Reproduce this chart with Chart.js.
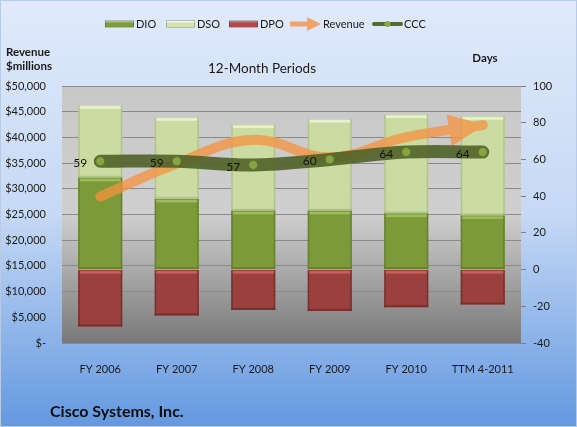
<!DOCTYPE html>
<html><head><meta charset="utf-8">
<script src="https://cdn.jsdelivr.net/npm/chart.js@4.4.0/dist/chart.umd.min.js"></script>
<style>html,body{margin:0;padding:0;background:#dfe9fa;overflow:hidden}</style>
</head><body>
<canvas id="c" width="577" height="427"></canvas>
<script>
const categories = ['FY 2006', 'FY 2007', 'FY 2008', 'FY 2009', 'FY 2010', 'TTM 4-2011'];
const dio = [50, 38.5, 32, 32, 30.5, 29.5];
const dso = [39.5, 44.5, 47, 50, 54, 54];
const dpo = [31, 25, 22, 22.5, 20.5, 19];
const revenue = [28484, 34922, 39540, 36117, 40040, 42400];
const ccc = [59, 59, 57, 60, 64, 64];
const revenueAxis = [0, 50000, 5000];
const daysAxis = [-40, 100, 20];

const FONT = 'Lato, "Liberation Sans", sans-serif';
const bevel = [
  {hl: '#a0bc5a', dark: '#5c7727'},
  {hl: '#e8f2cf', dark: '#a6b686'},
  {hl: '#c9625f', dark: '#6a2927'}
];

const bgPlugin = {
  id: 'bg',
  beforeDraw(chart) {
    const ctx = chart.ctx, w = chart.width, h = chart.height;
    ctx.save();
    let g = ctx.createLinearGradient(0, 0, 0, h);
    g.addColorStop(0, '#e0eafa');
    g.addColorStop(0.5, '#c6d9f5');
    g.addColorStop(1, '#6398e0');
    ctx.fillStyle = g;
    ctx.fillRect(0, 0, w, h);
    ctx.strokeStyle = '#b7cbe6';
    ctx.strokeRect(0.5, 0.5, w - 1, h - 1);
    const a = chart.chartArea;
    g = ctx.createLinearGradient(0, a.top, 0, a.bottom);
    g.addColorStop(0, '#c8c8c8');
    g.addColorStop(0.5, '#cfcfcf');
    g.addColorStop(1, '#797979');
    ctx.fillStyle = g;
    ctx.fillRect(a.left, a.top, a.right - a.left, a.bottom - a.top);
    ctx.restore();
  }
};

const bevelPlugin = {
  id: 'bevel',
  afterDatasetDraw(chart, args) {
    if (args.index > 2) return;
    const ctx = chart.ctx, c = bevel[args.index];
    ctx.save();
    args.meta.data.forEach(bar => {
      const p = bar.getProps(['x', 'y', 'base', 'width'], true);
      const l = p.x - p.width / 2, r = p.x + p.width / 2;
      const t = Math.min(p.y, p.base), b = Math.max(p.y, p.base);
      ctx.fillStyle = c.hl;
      ctx.fillRect(l + 1, t + 1, r - l - 2, 2.5);
      ctx.globalAlpha = 0.7;
      ctx.fillStyle = c.dark;
      ctx.fillRect(l, t, 1.5, b - t);
      ctx.fillRect(r - 1.5, t, 1.5, b - t);
      ctx.fillRect(l, b - 2, r - l, 2);
      ctx.globalAlpha = 1;
    });
    ctx.restore();
  }
};

function arrowTri(chart) {
  const pts = chart.getDatasetMeta(3).data;
  const p = pts[pts.length - 1];
  const prev = pts[pts.length - 2];
  let qx = (p.cp1x !== undefined) ? p.cp1x : prev.x;
  let qy = (p.cp1y !== undefined) ? p.cp1y : prev.y;
  let dx = p.x - qx, dy = p.y - qy;
  const L = Math.hypot(dx, dy) || 1;
  dx /= L; dy /= L;
  const nx = -dy, ny = dx;
  const tip = {x: p.x + dx * 2, y: p.y + dy * 2};
  const bx = tip.x - dx * 36, by = tip.y - dy * 36;
  return [tip, {x: bx + nx * 16, y: by + ny * 16}, {x: bx - nx * 16, y: by - ny * 16}];
}

const arrowPlugin = {
  id: 'arrow',
  beforeDatasetDraw(chart, args) {
    if (args.index !== 3) return;
    const ctx = chart.ctx, t = arrowTri(chart);
    ctx.save();
    ctx.beginPath();
    ctx.rect(0, 0, chart.width, chart.height);
    ctx.moveTo(t[0].x, t[0].y);
    ctx.lineTo(t[1].x, t[1].y);
    ctx.lineTo(t[2].x, t[2].y);
    ctx.closePath();
    ctx.clip('evenodd');
  },
  afterDatasetDraw(chart, args) {
    if (args.index !== 3) return;
    const ctx = chart.ctx;
    ctx.restore();
    const t = arrowTri(chart);
    ctx.save();
    ctx.fillStyle = chart.data.datasets[3].borderColor;
    ctx.beginPath();
    ctx.moveTo(t[0].x, t[0].y);
    ctx.lineTo(t[1].x, t[1].y);
    ctx.lineTo(t[2].x, t[2].y);
    ctx.closePath();
    ctx.fill();
    ctx.restore();
  }
};

const labelPlugin = {
  id: 'cccLabels',
  afterDatasetsDraw(chart) {
    const ctx = chart.ctx, meta = chart.getDatasetMeta(4);
    ctx.save();
    ctx.font = '12px ' + FONT;
    ctx.fillStyle = '#111';
    ctx.textAlign = 'right';
    ctx.textBaseline = 'middle';
    meta.data.forEach((pt, i) => {
      ctx.fillText(String(ccc[i]), pt.x - 13, pt.y + 2);
    });
    ctx.restore();
  }
};

const textPlugin = {
  id: 'texts',
  afterDraw(chart) {
    const ctx = chart.ctx;
    ctx.save();
    ctx.textBaseline = 'middle';
    ctx.fillStyle = '#1a1a1a';
    const ly = 24;
    const sw = [[105, '#7f9c3c', '#a9c463', 'DIO'], [166, '#d3e3ae', '#f0f7dc', 'DSO'], [229, '#b04a48', '#d2726f', 'DPO']];
    ctx.font = '11px ' + FONT;
    ctx.textAlign = 'left';
    sw.forEach(s => {
      ctx.fillStyle = s[1];
      ctx.fillRect(s[0], ly - 3, 29, 6);
      ctx.fillStyle = s[2];
      ctx.fillRect(s[0], ly - 3, 29, 1.5);
      ctx.strokeStyle = 'rgba(0,0,0,0.25)';
      ctx.lineWidth = 0.8;
      ctx.strokeRect(s[0] + 0.5, ly - 3.5, 28, 7);
      ctx.fillStyle = '#1a1a1a';
      ctx.fillText(s[3], s[0] + 31, ly);
    });
    ctx.fillStyle = 'rgba(240,160,100,0.95)';
    ctx.fillRect(290, ly - 2.5, 19, 5);
    ctx.beginPath();
    ctx.moveTo(321, ly);
    ctx.lineTo(307, ly - 7);
    ctx.lineTo(307, ly + 7);
    ctx.closePath();
    ctx.fill();
    ctx.fillStyle = '#1a1a1a';
    ctx.fillText('Revenue', 323, ly);
    ctx.strokeStyle = '#56692c';
    ctx.lineWidth = 4;
    ctx.lineCap = 'round';
    ctx.beginPath();
    ctx.moveTo(374, ly);
    ctx.lineTo(401, ly);
    ctx.stroke();
    ctx.fillStyle = '#8aa848';
    ctx.beginPath();
    ctx.arc(387.5, ly, 3, 0, Math.PI * 2);
    ctx.fill();
    ctx.fillStyle = '#1a1a1a';
    ctx.fillText('CCC', 404, ly);
    ctx.font = 'bold 11.5px ' + FONT;
    ctx.textAlign = 'center';
    ctx.fillText('Revenue', 28, 52);
    ctx.fillText('$millions', 29, 66);
    ctx.fillText('Days', 485, 58);
    ctx.font = '13.5px ' + FONT;
    ctx.fillText('12-Month Periods', 262, 69);
    ctx.font = 'bold 16px ' + FONT;
    ctx.textAlign = 'left';
    ctx.textBaseline = 'alphabetic';
    ctx.fillStyle = '#0d0d0d';
    ctx.fillText('Cisco Systems, Inc.', 50, 417);
    ctx.restore();
  }
};

const tickFont = {family: FONT, size: 11};
new Chart(document.getElementById('c'), {
  data: {
    labels: categories,
    datasets: [
      {type: 'bar', label: 'DIO', data: dio, yAxisID: 'y1', stack: 'days', backgroundColor: '#7c9a3a', order: 3},
      {type: 'bar', label: 'DSO', data: dso, yAxisID: 'y1', stack: 'days', backgroundColor: '#cbdca3', order: 3},
      {type: 'bar', label: 'DPO', data: dpo.map(v => -v), yAxisID: 'y1', stack: 'days', backgroundColor: '#9a403f', order: 3},
      {type: 'line', label: 'Revenue', data: revenue, yAxisID: 'y', stack: 'rev', borderColor: 'rgba(245,145,62,0.75)',
        borderWidth: 10, tension: 0.4, pointRadius: 0, borderCapStyle: 'round', borderJoinStyle: 'round', order: 2},
      {type: 'line', label: 'CCC', data: ccc, yAxisID: 'y1', stack: 'ccc', borderColor: 'rgba(80,98,40,0.9)',
        borderWidth: 13, tension: 0.4, borderCapStyle: 'round', borderJoinStyle: 'round',
        pointRadius: 4.5, pointBackgroundColor: '#86a443', pointBorderColor: '#5d7826', pointBorderWidth: 1, order: 1}
    ]
  },
  options: {
    responsive: false,
    animation: false,
    devicePixelRatio: 1,
    layout: {padding: {top: 86, left: 0, right: 0, bottom: 0}},
    datasets: {bar: {barPercentage: 0.575, categoryPercentage: 1}},
    plugins: {legend: {display: false}, title: {display: false}, tooltip: {enabled: false}},
    scales: {
      x: {
        stacked: true,
        grid: {display: false},
        border: {display: false},
        ticks: {font: tickFont, color: '#1a1a1a', padding: 12, maxRotation: 0, autoSkip: false},
        afterFit: s => { s.height = 84; }
      },
      y: {
        position: 'left',
        min: revenueAxis[0], max: revenueAxis[1],
        grid: {color: '#8a8a8a', lineWidth: 1, drawTicks: false},
        border: {display: false},
        ticks: {
          stepSize: revenueAxis[2], font: tickFont, color: '#1a1a1a', padding: 16,
          callback: v => v === 0 ? '$-' : '$' + v.toLocaleString('en-US')
        },
        afterFit: s => { s.width = 62; }
      },
      y1: {
        position: 'right',
        stacked: true,
        min: daysAxis[0], max: daysAxis[1],
        grid: {drawOnChartArea: false, drawTicks: true, tickLength: 5, color: '#7f7f7f'},
        border: {display: false},
        ticks: {stepSize: daysAxis[2], font: tickFont, color: '#1a1a1a', padding: 7},
        afterFit: s => { s.width = 56; }
      }
    }
  },
  plugins: [bgPlugin, bevelPlugin, arrowPlugin, labelPlugin, textPlugin]
});
</script>
</body></html>
